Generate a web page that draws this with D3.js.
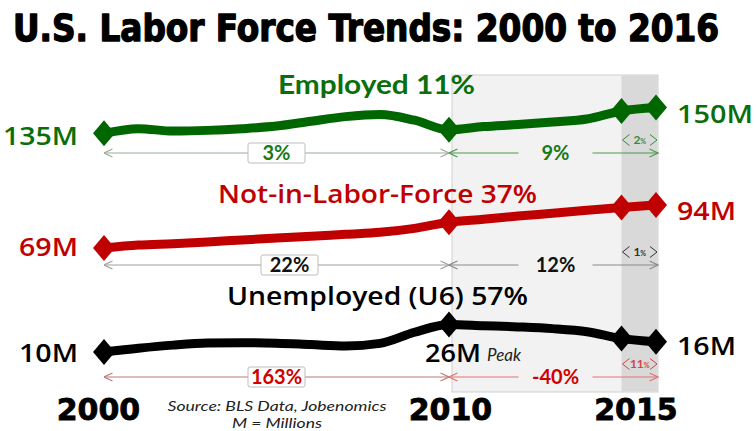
<!DOCTYPE html>
<html><head><meta charset="utf-8">
<script src="https://cdn.jsdelivr.net/npm/d3@7"></script>
<style>body{margin:0;background:#fff}svg{display:block}</style>
</head><body><svg id="c" width="756" height="431"></svg>
<script>
// ---- data ----
const years = [2000,2001,2002,2003,2004,2005,2006,2007,2008,2009,2010,2011,2012,2013,2014,2015,2016];
const employed        = [135,137.7,136.3,136.7,137.7,139.2,142.0,144.7,145.9,142.6,137,138.9,140.1,141.6,143.3,148,150];
const notInLaborForce = [69,70.7,71.5,72.5,73.7,74.8,75.8,77,78.1,80.4,84,85.7,87.6,89.2,90.9,92.5,94];
const unemployedU6    = [10,12.2,14.0,15.2,15.4,15.1,14.3,13.5,15.0,21.5,26,25.3,24.6,23.6,21.8,17.8,16];
const markerYears = [2000,2010,2015,2016];
const seriesTitles = ["Employed 11%","Not-in-Labor-Force 37%","Unemployed (U6) 57%"];
const startLabels = ["135M","69M","10M"];
const endLabels = ["150M","94M","16M"];
const changeLabels = [["3%","9%","2%"],["22%","12%","1%"],["163%","-40%","11%"]];
const axisYears = [2000,2010,2015];
const title = "U.S. Labor Force  Trends: 2000 to 2016";

// ---- layout ----
const svg = d3.select("#c");
const x = d3.scaleLinear().domain([2000,2016]).range([104,656]);
const yEmp = d3.scaleLinear().domain([135,150]).range([133.3,107.5]);
const yNilf = d3.scaleLinear().domain([69,94]).range([248,205]);
const yUne = d3.scaleLinear().domain([10,26]).range([352,324.5]);

const FONT = "Lato, 'Open Sans', sans-serif";
const SEMI = "'Open Sans', Lato, sans-serif";

// shaded bands
svg.append("rect").attr("x", x(2010)+3).attr("y", 75).attr("width", x(2016)+2-(x(2010)+3)).attr("height", 317)
  .attr("fill", "#f2f2f2").attr("stroke", "#cfcfcf").attr("stroke-width", 1);
svg.append("rect").attr("x", x(2015)).attr("y", 75.5).attr("width", x(2016)+1.5-x(2015)).attr("height", 316)
  .attr("fill", "#d9d9d9");

// title
svg.append("text").attr("x", 13).attr("y", 41).text(title)
  .attr("font-family", "'DejaVu Sans Condensed','DejaVu Sans',sans-serif").attr("font-weight", "bold")
  .attr("font-size", 38).attr("textLength", 706).attr("lengthAdjust", "spacingAndGlyphs")
  .attr("fill", "#000").attr("stroke", "#000").attr("stroke-width", 1.3).attr("stroke-linejoin", "round");

const series = [
  {values: employed, y: yEmp, color: "#006600", titleX: 278, titleY: 94, titleW: 197, titleColor: "#0a6e0a", titleWeight: 700,
   startY: 145, endY: 123, arrowY: 153, box1dx: 0,
   seg1: "#9aab9a", seg2: "#4f9a4f", boxText: "#1a7a1a", smallColor: "#3a8a3a"},
  {values: notInLaborForce, y: yNilf, color: "#c00000", titleX: 218, titleY: 203, titleW: 319, titleColor: "#c00000", titleWeight: 600,
   startY: 256, endY: 220, arrowY: 265, box1dx: 13,
   seg1: "#a0a0a0", seg2: "#8a8a8a", boxText: "#111", smallColor: "#333"},
  {values: unemployedU6, y: yUne, color: "#000", titleX: 227, titleY: 305, titleW: 301, titleColor: "#000", titleWeight: 600,
   startY: 362, endY: 355, arrowY: 377, box1dx: 0,
   seg1: "#c07a7a", seg2: "#e07575", boxText: "#d00000", smallColor: "#d04545"}
];

// arrowhead markers
const defs = svg.append("defs");
series.forEach((s, i) => {
  [["seg1", s.seg1], ["seg2", s.seg2]].forEach(([k, c]) => {
    defs.append("marker").attr("id", `ah${i}${k}`).attr("viewBox", "0 0 10 10").attr("refX", 9.5).attr("refY", 5)
      .attr("markerWidth", 10).attr("markerHeight", 10).attr("markerUnits", "userSpaceOnUse").attr("orient", "auto-start-reverse")
      .append("path").attr("d", "M1,1 L9.5,5 L1,9").attr("fill", "none").attr("stroke", c).attr("stroke-width", 1.2);
  });
});

const diamond = "M0,-13 L11,0 L0,13 L-11,0Z";
const line = d3.line().curve(d3.curveMonotoneX);

series.forEach((s, i) => {
  const g = svg.append("g");
  const pts = years.map((yr, j) => [x(yr), s.y(s.values[j])]);
  g.append("path").attr("d", line(pts)).attr("fill", "none").attr("stroke", s.color)
    .attr("stroke-width", 9).attr("stroke-linejoin", "round").attr("stroke-linecap", "round");
  g.selectAll("path.m").data(markerYears).join("path").attr("class", "m")
    .attr("transform", yr => `translate(${x(yr)},${s.y(s.values[years.indexOf(yr)])})`)
    .attr("d", diamond).attr("fill", s.color);

  // series title
  g.append("text").attr("x", s.titleX).attr("y", s.titleY).text(seriesTitles[i])
    .attr("font-family", s.titleWeight === 700 ? FONT : SEMI).attr("font-weight", s.titleWeight).attr("font-size", 26)
    .attr("textLength", s.titleW).attr("lengthAdjust", "spacingAndGlyphs").attr("fill", s.titleColor);
  // start / end labels
  g.append("text").attr("x", 78).attr("y", s.startY).attr("text-anchor", "end").text(startLabels[i])
    .attr("font-family", SEMI).attr("font-weight", 600).attr("font-size", 26)
    .attr("textLength", startLabels[i].length > 3 ? 75 : 59).attr("lengthAdjust", "spacingAndGlyphs").attr("fill", s.titleColor);
  g.append("text").attr("x", 677).attr("y", s.endY).text(endLabels[i])
    .attr("font-family", SEMI).attr("font-weight", 600).attr("font-size", 26)
    .attr("textLength", endLabels[i].length > 3 ? 76 : 59).attr("lengthAdjust", "spacingAndGlyphs").attr("fill", s.titleColor);

  // arrows
  const ay = s.arrowY;
  g.append("line").attr("x1", x(2000)).attr("x2", x(2010)).attr("y1", ay).attr("y2", ay)
    .attr("stroke", s.seg1).attr("stroke-width", 1.2)
    .attr("marker-start", `url(#ah${i}seg1)`).attr("marker-end", `url(#ah${i}seg1)`);
  g.append("line").attr("x1", x(2010)).attr("x2", x(2016)+2).attr("y1", ay).attr("y2", ay)
    .attr("stroke", s.seg2).attr("stroke-width", 1.2)
    .attr("marker-start", `url(#ah${i}seg2)`).attr("marker-end", `url(#ah${i}seg2)`);

  // boxed label first segment
  const c1 = (x(2000) + x(2010)) / 2 + s.box1dx;
  const bw = 57;
  g.append("rect").attr("x", c1 - bw/2).attr("y", ay - 10).attr("width", bw).attr("height", 20).attr("rx", 2)
    .attr("fill", "#fff").attr("stroke", "#bdbdbd").attr("stroke-width", 1);
  g.append("text").attr("x", c1).attr("y", ay + 7).attr("text-anchor", "middle").text(changeLabels[i][0])
    .attr("font-family", FONT).attr("font-weight", 700).attr("font-size", 20).attr("fill", s.boxText);

  // second segment label (gap in line)
  const c2 = (x(2010) + x(2016)) / 2 + 3;
  g.append("rect").attr("x", c2 - 37).attr("y", ay - 4).attr("width", 74).attr("height", 8).attr("fill", "#f2f2f2");
  g.append("text").attr("x", c2).attr("y", ay + 7).attr("text-anchor", "middle").text(changeLabels[i][1])
    .attr("font-family", FONT).attr("font-weight", 700).attr("font-size", 20).attr("fill", s.boxText);

  // small label 2015-2016
  const sy = ay - 13;
  const xl = x(2015) + 1, xr = x(2016) + 1;
  g.append("path").attr("d", `M${xl+7},${sy-5.5} L${xl},${sy} L${xl+7},${sy+5.5} M${xr-7},${sy-5.5} L${xr},${sy} L${xr-7},${sy+5.5}`)
    .attr("fill", "none").attr("stroke", s.smallColor).attr("stroke-width", 1);
  const t = g.append("text").attr("x", (xl + xr) / 2).attr("y", sy + 4).attr("text-anchor", "middle")
    .attr("font-family", FONT).attr("font-weight", 700).attr("fill", s.smallColor);
  const lab = changeLabels[i][2];
  t.append("tspan").attr("font-size", 12).text(lab.replace("%", ""));
  t.append("tspan").attr("font-size", 7).text("%");
});

// peak label
svg.append("text").attr("x", 425).attr("y", 362).text("26M")
  .attr("font-family", SEMI).attr("font-weight", 600).attr("font-size", 26)
  .attr("textLength", 56).attr("lengthAdjust", "spacingAndGlyphs").attr("fill", "#000");
svg.append("text").attr("x", 487).attr("y", 361).text("Peak")
  .attr("font-family", FONT).attr("font-style", "italic").attr("font-size", 17).attr("fill", "#222");

// x axis year labels
const axis = d3.axisBottom(x).tickValues(axisYears).tickFormat(d3.format("d")).tickSize(0).tickPadding(0);
const ax = svg.append("g").attr("transform", "translate(0,399)").call(axis);
ax.select(".domain").remove();
const dxs = {2000: -6, 2010: 1, 2015: 14};
ax.selectAll(".tick text").attr("dx", d => dxs[d]).attr("dy", "0.71em")
  .attr("font-family", "'DejaVu Sans',sans-serif").attr("font-weight", "bold").attr("font-size", 30)
  .attr("fill", "#000").attr("stroke", "#000").attr("stroke-width", 0.8);

// source
svg.append("text").attr("x", 277).attr("y", 411).attr("text-anchor", "middle").text("Source: BLS Data, Jobenomics")
  .attr("font-family", FONT).attr("font-style", "italic").attr("font-size", 13.5)
  .attr("textLength", 219).attr("lengthAdjust", "spacingAndGlyphs").attr("fill", "#222");
svg.append("text").attr("x", 277).attr("y", 428).attr("text-anchor", "middle").text("M = Millions")
  .attr("font-family", FONT).attr("font-style", "italic").attr("font-size", 13.5)
  .attr("textLength", 90).attr("lengthAdjust", "spacingAndGlyphs").attr("fill", "#222");
</script></body></html>
